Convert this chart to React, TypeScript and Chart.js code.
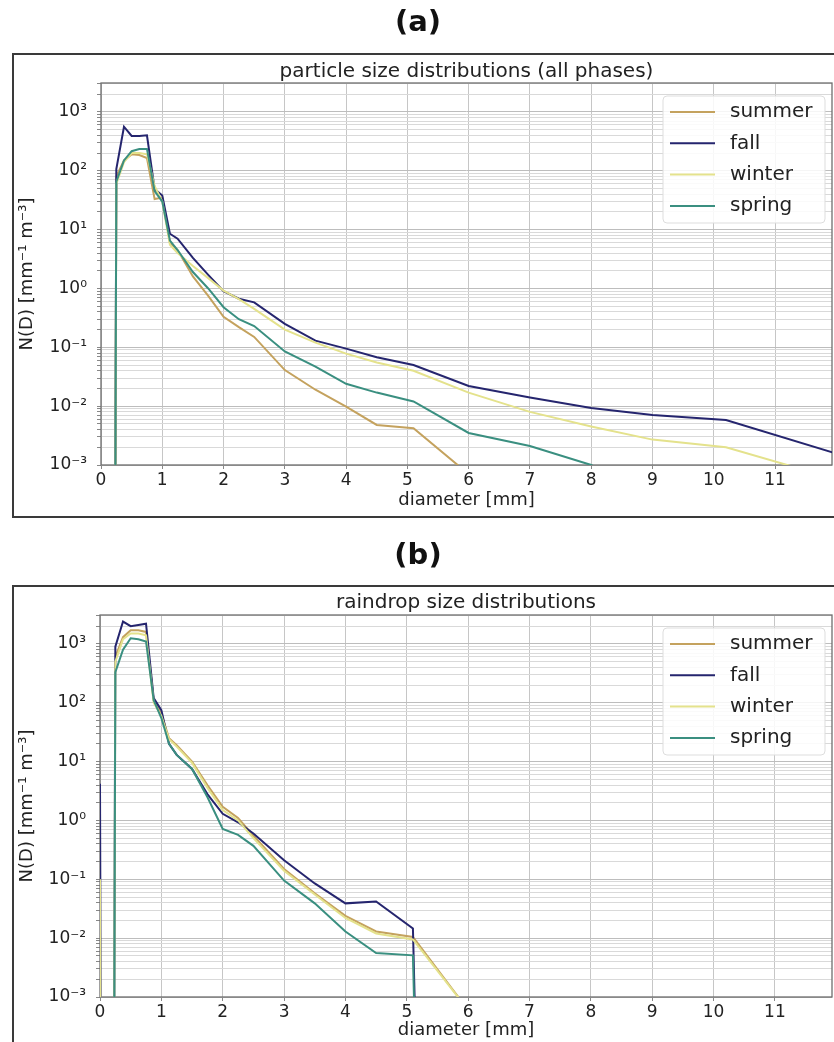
import React, { useEffect, useRef } from 'react';
import { Chart, registerables } from 'chart.js';

Chart.register(...registerables);

// ---------------- data ----------------
const SEASONS = ['summer', 'fall', 'winter', 'spring'];
const COLORS = ['#c4a25e', '#25256e', '#e4e28c', '#3a8f80'];

const X_TICKS = [0, 1, 2, 3, 4, 5, 6, 7, 8, 9, 10, 11];
const Y_EXPONENTS = [-3, -2, -1, 0, 1, 2, 3];
const ZERO = 1e-40; // empty bin (value 0 on a log axis)

// (a) particle size distributions (all phases)
const DIAM_A = [0.125, 0.25, 0.375, 0.5, 0.625, 0.75, 0.875, 1.0, 1.125, 1.25, 1.5, 1.75, 2.0, 2.25, 2.5, 3.0, 3.5, 4.0, 4.5, 5.1, 6.0, 7.0, 8.0, 9.0, 10.2, 12.2];
const SUMMER_A = [ZERO, 80, 150, 190, 185, 165, 33, 35, 6.0, 4.5, 1.6, 0.75, 0.33, 0.22, 0.15, 0.041, 0.019, 0.0098, 0.0048, 0.0042, 0.0007, null, null, null, null, null];
const FALL_A = [ZERO, 107, 560, 390, 390, 400, 49, 38, 8.5, 7.0, 3.3, 1.7, 0.9, 0.67, 0.58, 0.25, 0.13, 0.095, 0.068, 0.05, 0.022, 0.014, 0.0093, 0.0071, 0.0058, 0.00135];
const WINTER_A = [ZERO, 60, 140, 200, 200, 190, 55, 30, 5.5, 4.0, 2.4, 1.5, 0.92, 0.66, 0.45, 0.2, 0.12, 0.078, 0.055, 0.04, 0.017, 0.008, 0.0045, 0.0027, 0.002, 0.0005];
const SPRING_A = [ZERO, 65, 150, 215, 235, 235, 45, 30, 6.5, 4.5, 1.9, 1.0, 0.48, 0.3, 0.23, 0.085, 0.047, 0.024, 0.017, 0.012, 0.0035, 0.0021, 0.001, 0.0003, null, null];

// (b) raindrop size distributions
const DIAM_B = [0, 0.125, 0.25, 0.375, 0.5, 0.625, 0.75, 0.875, 1.0, 1.125, 1.25, 1.5, 1.75, 2.0, 2.25, 2.5, 3.0, 3.5, 4.0, 4.5, 5.1, 6.0];
const SUMMER_B = [null, null, 600, 1300, 1700, 1700, 1600, 110, 65, 25, 19, 10, 4.0, 1.7, 1.1, 0.55, 0.15, 0.058, 0.024, 0.013, 0.0105, 0.0006];
const FALL_B = [4.2, ZERO, 900, 2400, 2000, 2100, 2200, 120, 75, 20, 13, 7.5, 2.8, 1.3, 0.93, 0.6, 0.21, 0.085, 0.039, 0.042, 0.0146, ZERO];
const WINTER_B = [0.1, ZERO, 500, 1200, 1500, 1500, 1400, 100, 60, 24, 18, 9.5, 3.6, 1.5, 1.0, 0.5, 0.14, 0.055, 0.022, 0.012, 0.0095, 0.0006];
const SPRING_B = [null, ZERO, 330, 800, 1250, 1200, 1100, 110, 55, 20, 13, 7.5, 2.5, 0.72, 0.57, 0.37, 0.095, 0.039, 0.013, 0.0056, 0.0051, ZERO];

const FONT = '"DejaVu Sans", sans-serif';
const SUP: Record<string, string> = { '-': '⁻', '0': '⁰', '1': '¹', '2': '²', '3': '³', '4': '⁴', '5': '⁵', '6': '⁶', '7': '⁷', '8': '⁸', '9': '⁹' };

const isDecade = (v: number) => {
  const e = Math.round(Math.log10(v));
  return Math.abs(v / Math.pow(10, e) - 1) < 1e-6;
};
const fmtDecade = (v: number) => {
  if (!isDecade(v)) return '';
  const e = Math.round(Math.log10(v));
  return '10' + String(e).split('').map((c) => SUP[c]).join('');
};

interface Panel {
  letter: string;
  title: string;
  xs: number[];
  series: (number | null)[][];
  letterY: number;
  titleY: number;
  frameTop: number;
  frameBottom: number;
  padding: { left: number; right: number; top: number; bottom: number };
  yWidth: number;
  xHeight: number;
}

const PANEL_A: Panel = {
  letter: '(a)',
  title: 'particle size distributions (all phases)',
  xs: DIAM_A,
  series: [SUMMER_A, FALL_A, WINTER_A, SPRING_A],
  letterY: 23,
  titleY: 72,
  frameTop: 54,
  frameBottom: 517,
  padding: { left: 13, right: 2, top: 83, bottom: 15 },
  yWidth: 88,
  xHeight: 50,
};

const PANEL_B: Panel = {
  letter: '(b)',
  title: 'raindrop size distributions',
  xs: DIAM_B,
  series: [SUMMER_B, FALL_B, WINTER_B, SPRING_B],
  letterY: 26,
  titleY: 73,
  frameTop: 56,
  frameBottom: 700,
  padding: { left: 13, right: 2, top: 85, bottom: 15 },
  yWidth: 87,
  xHeight: 48,
};

function decorPlugin(p: Panel) {
  return {
    id: 'decor',
    beforeDatasetsDraw(chart: any) {
      const ctx = chart.ctx as CanvasRenderingContext2D;
      const a = chart.chartArea;
      ctx.save();
      ctx.strokeStyle = '#6e6e6e';
      ctx.lineWidth = 1.3;
      ctx.strokeRect(a.left, a.top, a.right - a.left, a.bottom - a.top);
      ctx.restore();
    },
    afterDraw(chart: any) {
      const ctx = chart.ctx as CanvasRenderingContext2D;
      const a = chart.chartArea;
      ctx.save();
      // outer frame
      ctx.strokeStyle = '#3a3a3a';
      ctx.lineWidth = 2;
      ctx.strokeRect(13, p.frameTop, 1000, p.frameBottom - p.frameTop);
      // panel letter
      ctx.fillStyle = '#111';
      ctx.textAlign = 'center';
      ctx.textBaseline = 'middle';
      ctx.font = `bold 29px ${FONT}`;
      ctx.fillText(p.letter, 418, p.letterY);
      // axes title
      ctx.fillStyle = '#222';
      ctx.font = `20px ${FONT}`;
      ctx.fillText(p.title, (a.left + a.right) / 2, p.titleY);
      // legend
      const bx = a.right - 169;
      const bw = 162;
      const by = a.top + 13;
      const bh = 127;
      ctx.fillStyle = 'rgba(255,255,255,0.85)';
      ctx.strokeStyle = '#dddddd';
      ctx.lineWidth = 1;
      ctx.beginPath();
      (ctx as any).roundRect(bx, by, bw, bh, 4);
      ctx.fill();
      ctx.stroke();
      SEASONS.forEach((s, i) => {
        const y = a.top + 29 + i * 31.3;
        ctx.strokeStyle = COLORS[i];
        ctx.lineWidth = 2;
        ctx.beginPath();
        ctx.moveTo(a.right - 162, y);
        ctx.lineTo(a.right - 117, y);
        ctx.stroke();
        ctx.fillStyle = '#222';
        ctx.textAlign = 'left';
        ctx.font = `20px ${FONT}`;
        ctx.fillText(s, a.right - 102, y);
      });
      ctx.restore();
    },
  };
}

function buildConfig(p: Panel): any {
  const yTicks: number[] = [];
  Y_EXPONENTS.forEach((e) => {
    for (let m = 1; m <= 9; m++) {
      const v = m * Math.pow(10, e);
      if (v <= 3100) yTicks.push(v);
    }
  });
  return {
    type: 'line',
    data: {
      datasets: p.series.map((vals, i) => ({
        label: SEASONS[i],
        data: p.xs.map((x, j) => ({ x, y: vals[j] })),
        borderColor: COLORS[i],
        backgroundColor: COLORS[i],
        borderWidth: 2,
        pointRadius: 0,
        tension: 0,
        fill: false,
        spanGaps: false,
        order: p.series.length - i, // later series drawn on top
      })),
    },
    options: {
      responsive: false,
      animation: false,
      devicePixelRatio: 1,
      layout: { padding: p.padding },
      plugins: { legend: { display: false }, tooltip: { enabled: false }, title: { display: false } },
      scales: {
        x: {
          type: 'linear',
          min: 0,
          max: 11.93,
          afterBuildTicks: (s: any) => {
            s.ticks = X_TICKS.map((v) => ({ value: v }));
          },
          afterFit: (s: any) => {
            s.height = p.xHeight;
          },
          grid: { color: '#c6c6c6', lineWidth: 1, drawTicks: true, tickLength: 4, tickColor: '#888' },
          border: { display: false },
          ticks: { font: { family: FONT, size: 17 }, color: '#222', padding: 1, maxRotation: 0, autoSkip: false, callback: (v: number) => String(v) },
          title: { display: true, text: 'diameter [mm]', font: { family: FONT, size: 18 }, color: '#222', padding: { top: 0, bottom: 4 } },
        },
        y: {
          type: 'logarithmic',
          min: 1e-3,
          max: 3100,
          afterBuildTicks: (s: any) => {
            s.ticks = yTicks.map((v) => ({ value: v, major: isDecade(v) }));
          },
          afterFit: (s: any) => {
            s.width = p.yWidth;
          },
          grid: {
            color: (c: any) => (c.tick && isDecade(c.tick.value) ? '#bdbdbd' : '#d9d9d9'),
            lineWidth: 1,
            drawTicks: true,
            tickLength: 4,
            tickColor: '#888',
          },
          border: { display: false },
          ticks: { font: { family: FONT, size: 17 }, color: '#222', padding: 10, autoSkip: false, callback: (v: number) => fmtDecade(v) },
          title: { display: true, text: 'N(D) [mm⁻¹ m⁻³]', font: { family: FONT, size: 18 }, color: '#222', padding: { top: 4, bottom: 0 } },
        },
      },
    },
    plugins: [decorPlugin(p)],
  };
}

function PanelChart({ panel, top }: { panel: Panel; top: number }) {
  const ref = useRef<HTMLCanvasElement | null>(null);
  useEffect(() => {
    if (!ref.current) return;
    const chart = new Chart(ref.current, buildConfig(panel));
    return () => chart.destroy();
  }, [panel]);
  return (
    <canvas
      ref={ref}
      width={834}
      height={530}
      style={{ position: 'absolute', left: 0, top, width: 834, height: 530, display: 'block' }}
    />
  );
}

export default function App() {
  return (
    <div style={{ position: 'absolute', left: 0, top: 0, width: 834, height: 1042, overflow: 'hidden', background: '#fff' }}>
      <PanelChart panel={PANEL_A} top={0} />
      <PanelChart panel={PANEL_B} top={530} />
    </div>
  );
}
